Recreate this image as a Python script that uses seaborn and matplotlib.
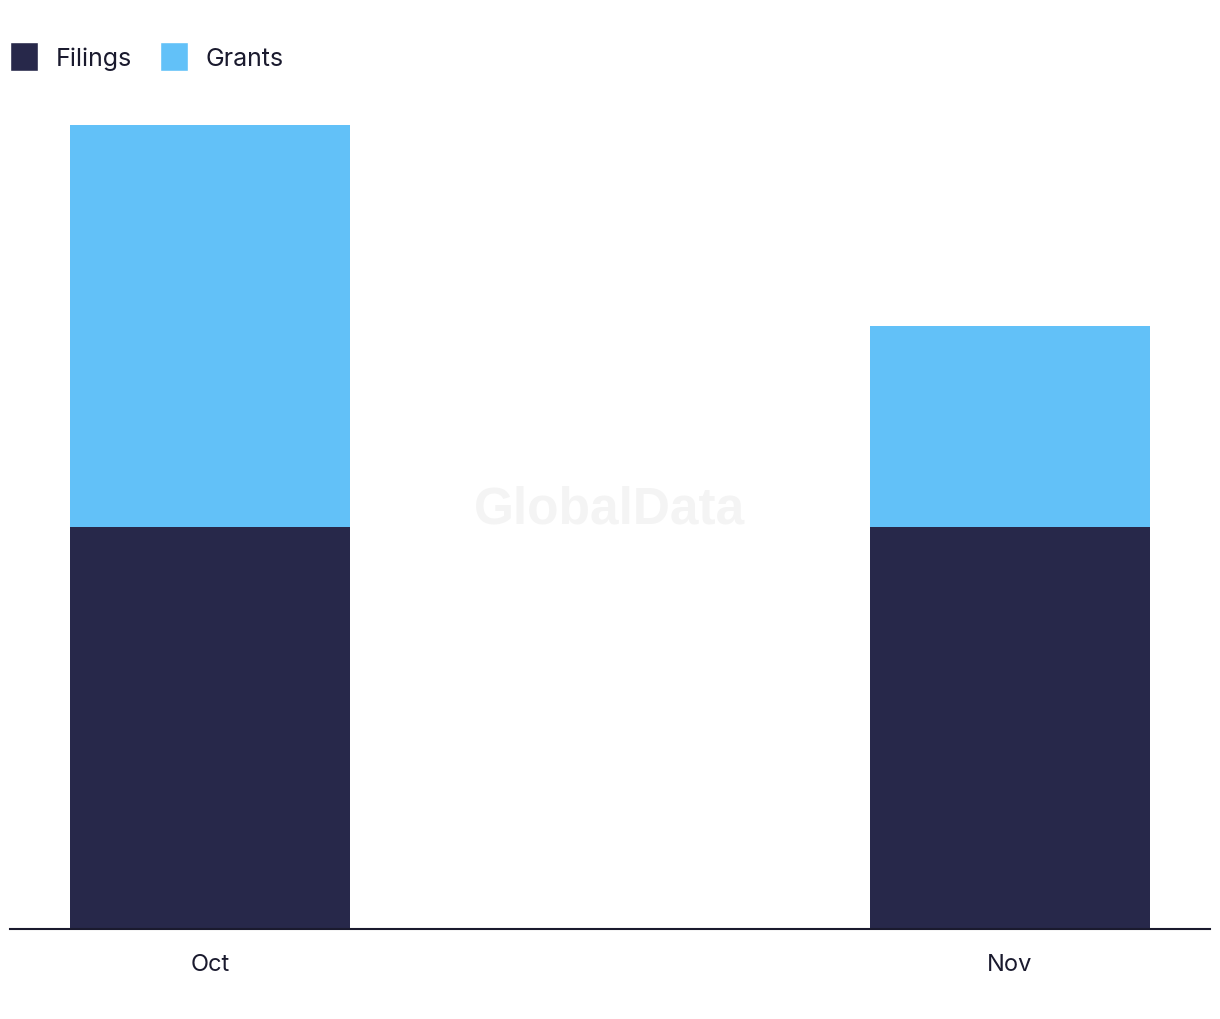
import matplotlib
matplotlib.use("Agg")
import matplotlib.pyplot as plt
from matplotlib.patches import Patch
import seaborn as sns
import pandas as pd

months = ["Oct", "Nov"]
filings = [2, 2]
grants = [2, 1]

dark = "#27284a"
light = "#62c1f8"

df = pd.DataFrame({"month": months, "filings": filings, "grants": grants})
df["total"] = df["filings"] + df["grants"]

sns.set_style("white")
plt.rcParams["font.family"] = ["Inter", "DejaVu Sans"]

fig = plt.figure(figsize=(12.2, 10.2), dpi=100)
ax = fig.add_axes([10 / 1220, 90 / 1020, 1200 / 1220, 829 / 1020])

# stacked: total first (grants on top), then filings over it
sns.barplot(data=df, x="month", y="total", color=light, width=0.35,
            saturation=1, linewidth=0, ax=ax)
sns.barplot(data=df, x="month", y="filings", color=dark, width=0.35,
            saturation=1, linewidth=0, ax=ax)

ax.set_xlim(-0.25, 1.25)
ax.set_ylim(0, 829 / 201)
ax.set_xlabel("")
ax.set_ylabel("")
ax.set_yticks([])
for s in ["top", "right", "left"]:
    ax.spines[s].set_visible(False)
ax.spines["bottom"].set_color("#1a1a2e")
ax.spines["bottom"].set_linewidth(1.5)
ax.tick_params(axis="x", length=0, pad=17, labelsize=17, labelcolor="#1a1a2e")

# watermark
ax.text(0.5, 0.5, "GlobalData", transform=fig.transFigure, ha="center",
        va="center", fontsize=37, fontweight="bold", color="#f4f4f4",
        family="Liberation Sans", zorder=0)

handles = [Patch(facecolor=dark, label="Filings"),
           Patch(facecolor=light, label="Grants")]
fig.legend(handles=handles, loc="upper left", bbox_to_anchor=(10 / 1220, 1 - 43 / 1020),
           ncol=2, frameon=False, fontsize=18, handlelength=1.12, handleheight=1.4,
           handletextpad=0.72, columnspacing=1.1, borderpad=0, borderaxespad=0,
           labelcolor="#1a1a2e")

fig.savefig("out.png", dpi=100)
